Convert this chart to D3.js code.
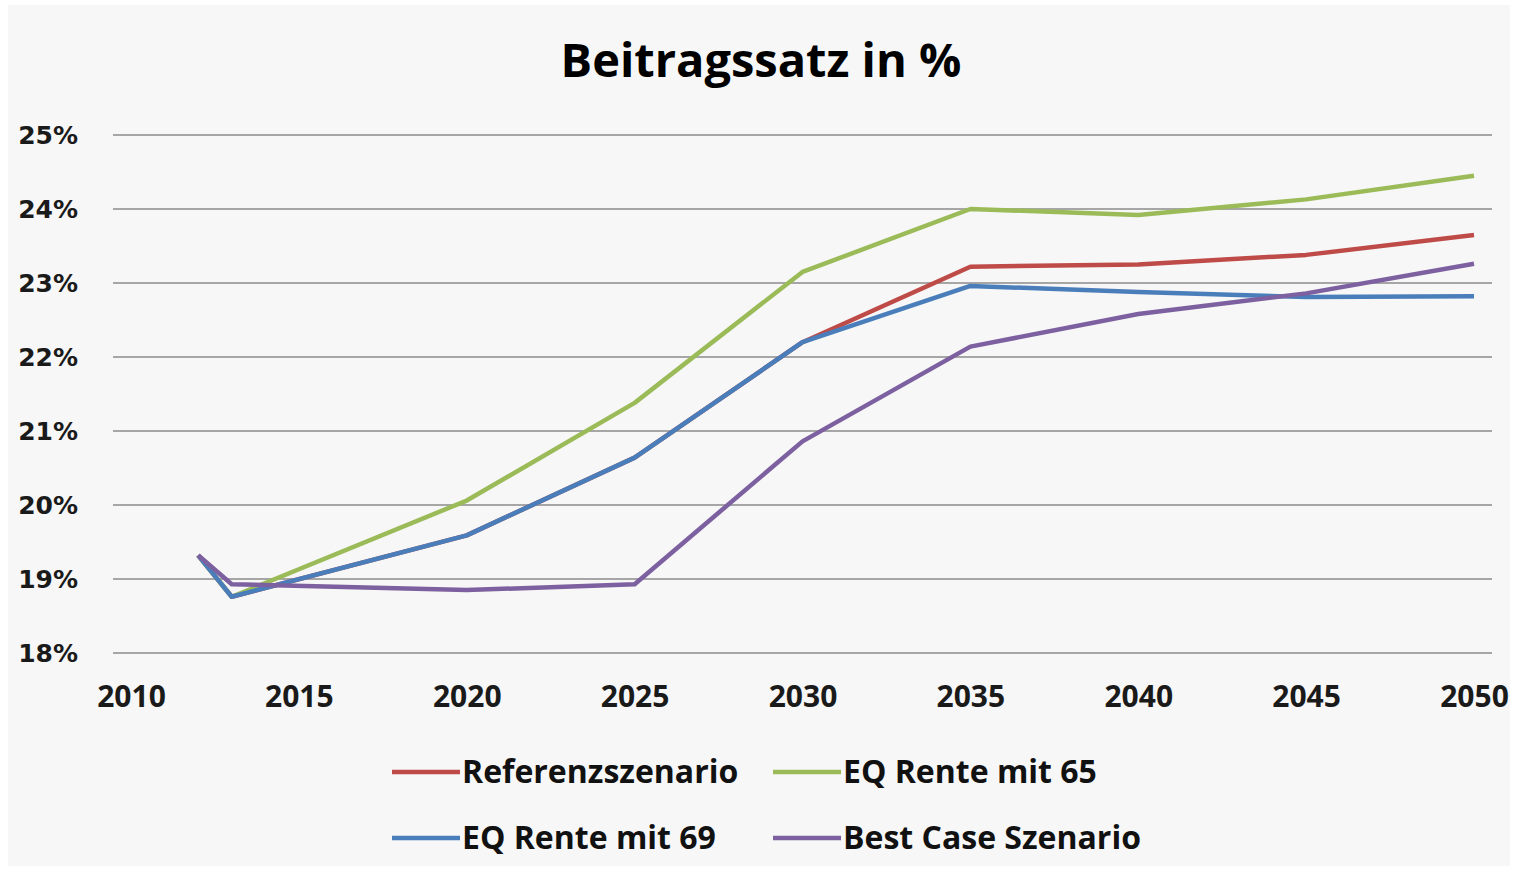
<!DOCTYPE html>
<html>
<head>
<meta charset="utf-8">
<script src="https://cdn.jsdelivr.net/npm/d3@7"></script>
<style>
  body { margin: 0; background: #fff; }
  svg { display: block; }
</style>
</head>
<body>
<svg id="chart"></svg>
<script>
// data
var years = [2012, 2013, 2020, 2025, 2030, 2035, 2040, 2045, 2050];
var referenz = [19.32, 18.76, 19.59, 20.64, 22.2, 23.22, 23.25, 23.38, 23.65];
var eqRente65 = [19.32, 18.76, 20.06, 21.38, 23.15, 24.0, 23.92, 24.13, 24.45];
var eqRente69 = [19.32, 18.76, 19.59, 20.64, 22.2, 22.96, 22.88, 22.81, 22.82];
var bestCase = [19.32, 18.93, 18.85, 18.93, 20.86, 22.14, 22.58, 22.86, 23.26];

var seriesNames = ["Referenzszenario", "EQ Rente mit 65", "EQ Rente mit 69", "Best Case Szenario"];
var seriesColors = ["#be4b48", "#9bbb59", "#4a7ebb", "#7d60a0"];
var xTicks = [2010, 2015, 2020, 2025, 2030, 2035, 2040, 2045, 2050];
var yTicks = [18, 19, 20, 21, 22, 23, 24, 25];

var width = 1518, height = 871;

var svg = d3.select("#chart")
    .attr("width", width)
    .attr("height", height);

// chart area background
svg.append("rect")
    .attr("x", 8).attr("y", 5)
    .attr("width", 1502).attr("height", 861)
    .attr("fill", "#f7f7f7");

var x = d3.scaleLinear().domain([2010, 2050]).range([131, 1474]);
var y = d3.scaleLinear().domain([18, 25]).range([653, 135]);

// title
svg.append("text")
    .attr("x", 761).attr("y", 77)
    .attr("text-anchor", "middle")
    .style("font-family", "'Open Sans', sans-serif")
    .style("font-weight", "bold")
    .style("font-size", "47px")
    .attr("fill", "#000")
    .text("Beitragssatz in %");

// horizontal gridlines
svg.append("g")
    .selectAll("line")
    .data(yTicks)
    .enter().append("line")
    .attr("x1", 113).attr("x2", 1492)
    .attr("y1", function(d) { return y(d); })
    .attr("y2", function(d) { return y(d); })
    .attr("stroke", "#a6a6a6")
    .attr("stroke-width", 2);

// y axis labels
var yAxis = d3.axisLeft(y)
    .tickValues(yTicks)
    .tickSize(0)
    .tickPadding(0)
    .tickFormat(function(d) { return d + "%"; });

var yg = svg.append("g")
    .attr("transform", "translate(78,0)")
    .call(yAxis);
yg.select(".domain").remove();
yg.selectAll("text")
    .style("font-family", "'DejaVu Sans', sans-serif")
    .style("font-weight", "bold")
    .style("font-size", "25px")
    .attr("fill", "#1a1a1a");

// x axis labels
var xAxis = d3.axisBottom(x)
    .tickValues(xTicks)
    .tickSize(0)
    .tickPadding(0)
    .tickFormat(d3.format("d"));

var xg = svg.append("g")
    .attr("transform", "translate(0,686)")
    .call(xAxis);
xg.select(".domain").remove();
xg.selectAll("text")
    .style("font-family", "'Open Sans', sans-serif")
    .style("font-weight", "bold")
    .style("font-size", "30px")
    .attr("fill", "#1a1a1a");

// lines
var allSeries = [referenz, eqRente65, eqRente69, bestCase];

var line = d3.line()
    .x(function(d, i) { return x(years[i]); })
    .y(function(d) { return y(d); });

svg.append("g")
    .selectAll("path")
    .data(allSeries)
    .enter().append("path")
    .attr("d", line)
    .attr("fill", "none")
    .attr("stroke", function(d, i) { return seriesColors[i]; })
    .attr("stroke-width", 4.5)
    .attr("stroke-linejoin", "round");

// legend, two rows by two columns
var legend = svg.append("g")
    .selectAll("g")
    .data(seriesNames)
    .enter().append("g")
    .attr("transform", function(d, i) {
      return "translate(" + (i % 2 === 0 ? 392 : 773) + "," + (i < 2 ? 772 : 838) + ")";
    });

legend.append("line")
    .attr("x1", 0).attr("x2", 68)
    .attr("stroke", function(d, i) { return seriesColors[i]; })
    .attr("stroke-width", 4.5);

legend.append("text")
    .attr("x", 70)
    .attr("dy", "0.35em")
    .style("font-family", "'Open Sans', sans-serif")
    .style("font-weight", "bold")
    .style("font-size", "32px")
    .attr("fill", "#111")
    .text(function(d) { return d; });
</script>
</body>
</html>
